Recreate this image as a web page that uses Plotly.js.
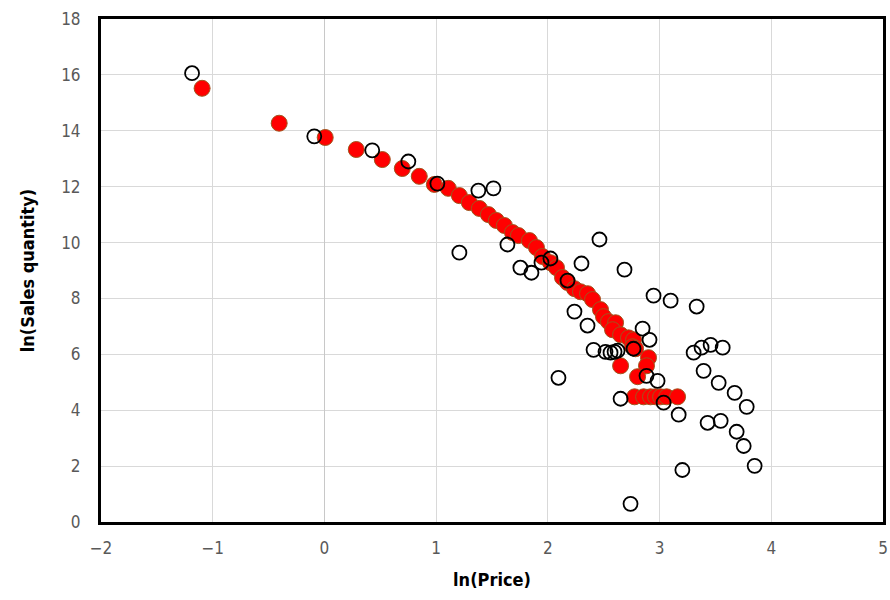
<!DOCTYPE html>
<html>
<head>
<meta charset="utf-8">
<script src="https://cdn.plot.ly/plotly-3.0.1.min.js"></script>
<style>
  html, body { margin: 0; padding: 0; background: #ffffff; }
  #chart { width: 890px; height: 600px; }
</style>
</head>
<body>
<div id="chart"></div>
<script>
// Observed items: log price vs log sales quantity (open circles)
const obsLnPrice = [
  -1.185, -0.091, 0.428, 0.751, 1.011, 1.378, 1.513, 1.208, 1.638, 2.462,
  1.754, 1.853, 1.943, 2.023, 2.301, 2.686, 2.176, 2.946, 3.099, 3.332,
  2.238, 2.355, 2.409, 2.516, 2.561, 2.597, 2.624, 2.767, 2.848, 2.910,
  2.095, 2.883, 2.982, 2.651, 3.036, 3.171, 3.305, 3.376, 3.457, 3.565,
  3.394, 3.529, 3.672, 3.780, 3.430, 3.547, 3.690, 3.753, 3.851, 3.204,
  2.740
];
const obsLnQty = [
  16.06, 13.80, 13.30, 12.90, 12.11, 11.86, 11.94, 9.64, 9.93, 10.11,
  9.10, 8.92, 9.28, 9.43, 9.25, 9.03, 8.64, 8.10, 7.92, 7.71,
  7.53, 7.03, 6.16, 6.09, 6.06, 6.09, 6.13, 6.20, 6.92, 6.52,
  5.16, 5.23, 5.05, 4.41, 4.27, 3.84, 6.06, 6.24, 6.34, 6.24,
  5.41, 4.98, 4.62, 4.12, 3.55, 3.62, 3.23, 2.72, 2.01, 1.86,
  0.65
];

// Fitted items (filled red circles)
const fitLnPrice = [
  -1.095, -0.405, 0.007, 0.285, 0.518, 0.697, 0.849, 0.984, 1.109, 1.208,
  1.297, 1.387, 1.468, 1.539, 1.611, 1.683, 1.737, 1.835, 1.898, 1.952,
  2.023, 2.077, 2.131, 2.176, 2.238, 2.292, 2.355, 2.400, 2.471, 2.498,
  2.543, 2.606, 2.579, 2.651, 2.722, 2.767, 2.758, 2.785, 2.901, 2.883,
  2.651, 2.803, 2.776, 2.857, 2.919, 2.964, 3.009, 3.063, 3.161
];
const fitLnQty = [
  15.52, 14.27, 13.76, 13.33, 12.97, 12.65, 12.37, 12.08, 11.94, 11.68,
  11.43, 11.22, 11.00, 10.79, 10.61, 10.36, 10.25, 10.07, 9.82, 9.50,
  9.28, 9.10, 8.75, 8.57, 8.35, 8.24, 8.17, 7.96, 7.60, 7.35,
  7.17, 7.13, 6.88, 6.70, 6.59, 6.52, 6.27, 6.20, 5.88, 5.59,
  5.59, 5.20, 4.48, 4.48, 4.48, 4.48, 4.48, 4.48, 4.48
];

const xTicks = [-2, -1, 0, 1, 2, 3, 4, 5];
const yTicks = [0, 2, 4, 6, 8, 10, 12, 14, 16, 18];

const tickFont = { family: '"DejaVu Sans Condensed", "Liberation Sans Narrow", Arial, sans-serif', size: 17, color: '#595959' };
const titleFont = { family: '"DejaVu Sans Condensed", "Liberation Sans Narrow", Arial, sans-serif', size: 18, color: '#000000', weight: 'bold' };

const traces = [
  {
    type: 'scatter', mode: 'markers',
    x: fitLnPrice, y: fitLnQty,
    marker: { symbol: 'circle', size: 16, color: '#ff0000', line: { color: '#a0561e', width: 1 } },
    hoverinfo: 'x+y', showlegend: false
  },
  {
    type: 'scatter', mode: 'markers',
    x: obsLnPrice, y: obsLnQty,
    marker: { symbol: 'circle', size: 14, color: 'rgba(0,0,0,0)', line: { color: '#000000', width: 1.8 } },
    hoverinfo: 'x+y', showlegend: false
  }
];

const layout = {
  width: 890, height: 600,
  margin: { l: 101, r: 7, t: 19, b: 78 },
  paper_bgcolor: '#ffffff', plot_bgcolor: '#ffffff',
  showlegend: false,
  xaxis: {
    range: [-2, 5], tickvals: xTicks, ticktext: xTicks.map(v => v < 0 ? '\u2212' + Math.abs(v) : String(v)),
    showgrid: true, gridcolor: '#d9d9d9', gridwidth: 1,
    zeroline: true, zerolinecolor: '#c8c8c8', zerolinewidth: 1,
    showline: true, linecolor: '#000000', linewidth: 3, mirror: true,
    ticks: '', ticklabelstandoff: 9,
    tickfont: tickFont,
    title: { text: 'ln(Price)', font: titleFont, standoff: 16 }
  },
  yaxis: {
    range: [0, 18], tickvals: yTicks,
    showgrid: true, gridcolor: '#d9d9d9', gridwidth: 1,
    zeroline: false,
    showline: true, linecolor: '#000000', linewidth: 3, mirror: true,
    ticks: '', ticklabelstandoff: 14,
    tickfont: tickFont,
    title: { text: 'ln(Sales quantity)', font: titleFont, standoff: 22 }
  }
};

Plotly.newPlot('chart', traces, layout, { displayModeBar: false, staticPlot: true });
</script>
</body>
</html>
